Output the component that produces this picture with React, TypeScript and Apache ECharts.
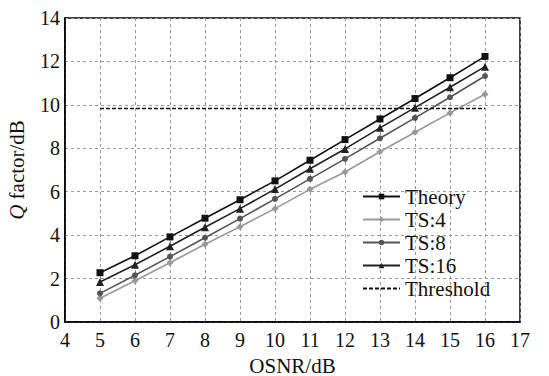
import React, { useEffect, useRef } from "react";
import * as echarts from "echarts";

const osnr = [5, 6, 7, 8, 9, 10, 11, 12, 13, 14, 15, 16];
const theory = [2.27, 3.05, 3.92, 4.78, 5.63, 6.5, 7.45, 8.4, 9.35, 10.29, 11.25, 12.23];
const ts4 = [1.09, 1.9, 2.73, 3.58, 4.39, 5.22, 6.11, 6.91, 7.84, 8.74, 9.63, 10.49];
const ts8 = [1.32, 2.15, 3.01, 3.88, 4.76, 5.67, 6.59, 7.51, 8.46, 9.4, 10.35, 11.33];
const ts16 = [1.84, 2.64, 3.49, 4.36, 5.22, 6.12, 7.06, 7.97, 8.94, 9.87, 10.81, 11.76];
const thresholdX = [5, 16];
const thresholdY = 9.83;

const FONT = "'Liberation Serif', 'Times New Roman', Times, serif";

export default function App() {
  const ref = useRef<HTMLDivElement>(null);
  useEffect(() => {
    if (!ref.current) return;
    const chart = echarts.init(ref.current, undefined, { renderer: "svg" });
    const pair = (ys: number[]) => osnr.map((x, i) => [x, ys[i]]);
    chart.setOption({
      animation: false,
      backgroundColor: "#fff",
      textStyle: { fontFamily: FONT },
      grid: {
        left: 65,
        top: 18,
        right: 29,
        bottom: 54,
        containLabel: false,
        outerBoundsMode: "none",
        show: true,
        borderColor: "#000",
        borderWidth: 1.5,
        backgroundColor: "transparent",
      },
      legend: {
        orient: "vertical",
        left: 357,
        top: 181,
        itemWidth: 37,
        itemHeight: 7,
        itemGap: 2,
        textStyle: { fontFamily: FONT, fontSize: 21, color: "#111" },
        data: [
          "Theory",
          "TS:4",
          "TS:8",
          "TS:16",
          { name: "Threshold", itemStyle: { opacity: 0 } },
        ],
      },
      xAxis: {
        type: "value",
        min: 4,
        max: 17,
        interval: 1,
        name: "OSNR/dB",
        nameLocation: "middle",
        nameGap: 33,
        nameTextStyle: { fontFamily: FONT, fontSize: 21, color: "#111" },
        axisLine: { show: true, lineStyle: { color: "#000", width: 1.5 } },
        axisTick: { show: false },
        axisLabel: { fontFamily: FONT, fontSize: 20, color: "#111", margin: 8 },
        splitLine: { show: true, lineStyle: { color: "#999", type: [3, 3], width: 1 } },
      },
      yAxis: {
        type: "value",
        min: 0,
        max: 14,
        interval: 2,
        name: "{q|Q} factor/dB",
        nameLocation: "middle",
        nameGap: 38,
        nameTextStyle: {
          fontFamily: FONT,
          fontSize: 21,
          color: "#111",
          rich: {
            q: { fontFamily: FONT, fontSize: 21, fontStyle: "italic", color: "#111" },
          },
        },
        axisLine: { show: true, lineStyle: { color: "#000", width: 1.5 } },
        axisTick: { show: false },
        axisLabel: { fontFamily: FONT, fontSize: 20, color: "#111", margin: 5 },
        splitLine: { show: true, lineStyle: { color: "#999", type: [3, 3], width: 1 } },
      },
      series: [
        {
          name: "Theory",
          type: "line",
          data: pair(theory),
          symbol: "rect",
          symbolSize: 7,
          itemStyle: { color: "#111" },
          lineStyle: { color: "#111", width: 1.6 },
          z: 5,
        },
        {
          name: "TS:4",
          type: "line",
          data: pair(ts4),
          symbol: "diamond",
          symbolSize: 7,
          itemStyle: { color: "#999" },
          lineStyle: { color: "#999", width: 1.6 },
        },
        {
          name: "TS:8",
          type: "line",
          data: pair(ts8),
          symbol: "circle",
          symbolSize: 6,
          itemStyle: { color: "#555" },
          lineStyle: { color: "#555", width: 1.6 },
        },
        {
          name: "TS:16",
          type: "line",
          data: pair(ts16),
          symbol: "triangle",
          symbolSize: 8,
          itemStyle: { color: "#222" },
          lineStyle: { color: "#222", width: 1.6 },
        },
        {
          name: "Threshold",
          type: "line",
          data: thresholdX.map((x) => [x, thresholdY]),
          symbol: "none",
          itemStyle: { color: "#111" },
          lineStyle: { color: "#111", width: 1.5, type: [4, 2] },
        },
      ],
    });
    return () => chart.dispose();
  }, []);
  return <div ref={ref} style={{ width: 549, height: 376, position: "absolute", left: 0, top: 0 }} />;
}
